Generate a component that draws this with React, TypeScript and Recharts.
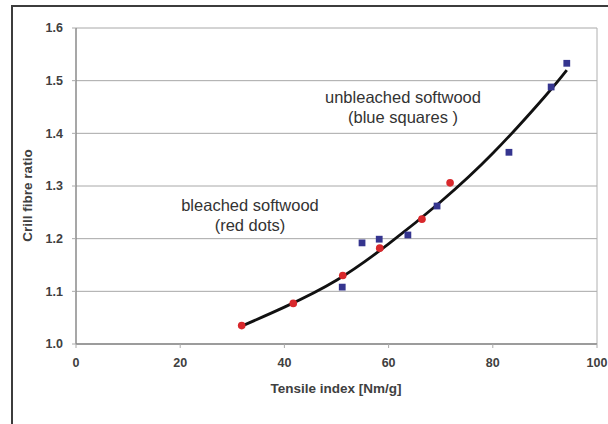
import React from "react";
import {
  ComposedChart, Scatter, Line, XAxis, YAxis, ZAxis, CartesianGrid, ReferenceLine
} from "recharts";

// bleached softwood (red dots)
const RED_X = [31.8, 41.7, 51.2, 58.3, 66.4, 71.8];
const RED_Y = [1.035, 1.077, 1.13, 1.182, 1.237, 1.306];

// unbleached softwood (blue squares)
const BLUE_X = [51.1, 54.9, 58.2, 63.7, 69.3, 83.1, 91.2, 94.2];
const BLUE_Y = [1.108, 1.192, 1.199, 1.207, 1.262, 1.364, 1.488, 1.533];

// fitted trend curve
const FIT_X = [31.8, 40, 50, 60, 70, 80, 90, 94.2];
const FIT_Y = [1.034, 1.07, 1.121, 1.19, 1.27, 1.362, 1.47, 1.52];

const X_TICKS = [0, 20, 40, 60, 80, 100];
const Y_TICKS = [1.0, 1.1, 1.2, 1.3, 1.4, 1.5, 1.6];

const red = RED_X.map((x, i) => ({ x, y: RED_Y[i] }));
const blue = BLUE_X.map((x, i) => ({ x, y: BLUE_Y[i] }));
const fit = FIT_X.map((x, i) => ({ x, y: FIT_Y[i] }));

const FONT = '"Liberation Sans", Arial, sans-serif';
const TICK = { fill: "#404040", fontSize: 12.5, fontWeight: 700, fontFamily: FONT };

export default function App() {
  return (
    <div style={{ position: "relative", width: 608, height: 424, overflow: "hidden",
      background: "#fff", fontFamily: FONT }}>
      <style>{"body{margin:0}"}</style>
      <div style={{ position: "absolute", left: 11, top: 5, width: 700, height: 500,
        borderLeft: "2px solid #3c3c3c", borderTop: "2px solid #3c3c3c" }}/>
      <div style={{ position: "absolute", left: 0, top: 0 }}>
        <ComposedChart width={608} height={424} margin={{ top: 28, right: 11, bottom: 50, left: 26 }}>
          <CartesianGrid horizontal vertical={false} stroke="#a8a8a8" strokeWidth={1}/>
          <XAxis type="number" dataKey="x" domain={[0, 100]} ticks={X_TICKS} height={30}
            tick={TICK} tickLine={{ stroke: "#aaa" }} tickSize={4} tickMargin={10}
            axisLine={{ stroke: "#8a8a8a", strokeWidth: 1.5 }} allowDataOverflow/>
          <YAxis type="number" dataKey="y" domain={[1.0, 1.6]} ticks={Y_TICKS} width={50}
            tick={TICK} tickFormatter={v => v.toFixed(1)} tickLine={{ stroke: "#aaa" }} tickSize={4}
            tickMargin={9} axisLine={{ stroke: "#8a8a8a", strokeWidth: 1.5 }} allowDataOverflow/>
          <ZAxis range={[46, 46]}/>
          <ReferenceLine x={100} stroke="#b0b0b0"/>
          <Line data={fit} dataKey="y" type="natural" stroke="#111" strokeWidth={2.8}
            dot={false} activeDot={false} isAnimationActive={false}/>
          <Scatter data={blue} fill="#35358f" shape="square" isAnimationActive={false}/>
          <Scatter data={red} fill="#d8282c" shape="circle" isAnimationActive={false}/>
        </ComposedChart>
      </div>
      <div style={{ position: "absolute", left: 218, top: 381, width: 236, textAlign: "center",
        fontSize: 13.5, fontWeight: 700, color: "#404040" }}>Tensile index [Nm/g]</div>
      <div style={{ position: "absolute", left: 27, top: 196, width: 0, height: 0 }}>
        <div style={{ position: "absolute", left: -70, top: -8, width: 140, textAlign: "center",
          transform: "rotate(-90deg)", fontSize: 13.5, fontWeight: 700, color: "#404040",
          whiteSpace: "nowrap" }}>Crill fibre ratio</div>
      </div>
      <div style={{ position: "absolute", left: 283, top: 87, width: 240, textAlign: "center",
        fontSize: 16.5, lineHeight: "20px", color: "#333" }}>
        unbleached softwood<br/>(blue squares )
      </div>
      <div style={{ position: "absolute", left: 130, top: 195, width: 240, textAlign: "center",
        fontSize: 16.5, lineHeight: "20px", color: "#333" }}>
        bleached softwood<br/>(red dots)
      </div>
    </div>
  );
}
